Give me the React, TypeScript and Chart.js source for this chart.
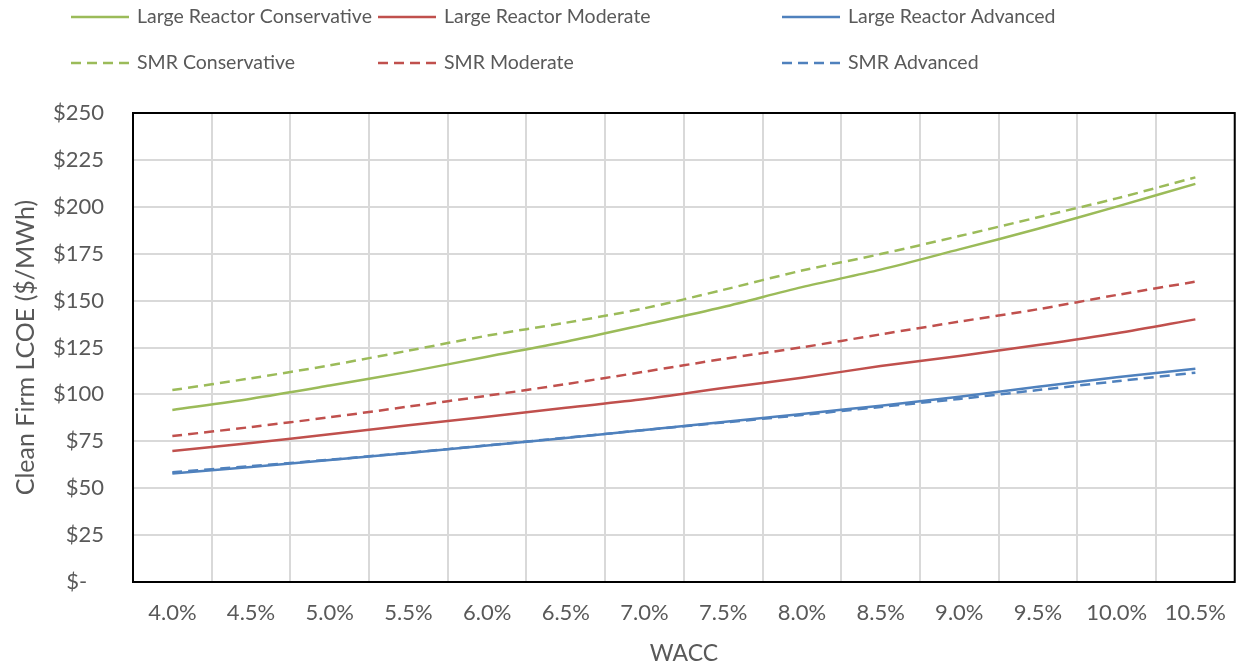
import React, { useEffect, useRef } from "react";
import { Chart, registerables } from "chart.js";

Chart.register(...registerables);

// ---------- data ----------
const WACC_LABELS = ["4.0%", "4.5%", "5.0%", "5.5%", "6.0%", "6.5%", "7.0%", "7.5%", "8.0%", "8.5%", "9.0%", "9.5%", "10.0%", "10.5%"];

const LR_CONSERVATIVE = [91.7, 97.7, 104.7, 112.0, 120.1, 128.1, 137.2, 146.6, 157.2, 166.5, 177.3, 188.3, 200.1, 212.2];
const LR_MODERATE = [69.8, 74.1, 78.7, 83.5, 88.1, 92.9, 97.5, 103.4, 108.9, 115.1, 120.5, 126.3, 132.6, 140.0];
const LR_ADVANCED = [57.8, 61.3, 65.0, 68.8, 72.7, 76.8, 81.0, 85.3, 89.6, 94.0, 98.8, 104.1, 109.1, 113.7];
const SMR_CONSERVATIVE = [102.3, 108.6, 115.5, 123.3, 131.3, 138.2, 145.9, 155.7, 166.0, 174.8, 184.4, 194.4, 204.5, 215.7];
const SMR_MODERATE = [77.8, 82.6, 87.8, 93.5, 99.3, 105.5, 112.1, 118.9, 125.1, 132.0, 138.8, 145.4, 153.0, 160.1];
const SMR_ADVANCED = [58.5, 61.8, 65.2, 68.9, 72.8, 76.9, 81.0, 85.0, 89.0, 93.3, 97.6, 102.3, 107.0, 111.6];

const SERIES_NAMES = [
  "Large Reactor Conservative",
  "Large Reactor Moderate",
  "Large Reactor Advanced",
  "SMR Conservative",
  "SMR Moderate",
  "SMR Advanced",
];

const Y_MIN = 0;
const Y_MAX = 250;
const Y_STEP = 25;

const X_TITLE = "WACC";
const Y_TITLE = "Clean Firm LCOE ($/MWh)";

// ---------- styles ----------
const GREEN = "#9BBB59";
const RED = "#C0504D";
const BLUE = "#4F81BD";
const TEXT = "#595959";
const GRID = "#D9D9D9";
const FONT = "Lato, 'Noto Sans', sans-serif";
const DASH = [10, 6];

const W = 1244;
const H = 667;

const legendPlugin = {
  id: "customLegend",
  afterDraw(chart: any) {
    const ctx = chart.ctx;
    const colX = [71, 378, 782];
    const rowY = [17, 63];
    const lineLen = 58;
    ctx.save();
    ctx.font = `19.5px ${FONT}`;
    ctx.textBaseline = "middle";
    ctx.textAlign = "left";
    chart.data.datasets.forEach((ds: any, i: number) => {
      const col = i % 3;
      const row = Math.floor(i / 3);
      const x = colX[col];
      const y = rowY[row];
      ctx.strokeStyle = ds.borderColor;
      ctx.lineWidth = ds.borderWidth;
      ctx.setLineDash(ds.borderDash || []);
      ctx.beginPath();
      ctx.moveTo(x, y);
      ctx.lineTo(x + lineLen, y);
      ctx.stroke();
      ctx.setLineDash([]);
      ctx.fillStyle = TEXT;
      ctx.fillText(ds.label, x + lineLen + 8, y);
    });
    ctx.restore();
  },
};

const framePlugin = {
  id: "frame",
  beforeDatasetsDraw(chart: any) {
    const { ctx, chartArea } = chart;
    ctx.save();
    ctx.strokeStyle = "#000000";
    ctx.lineWidth = 2;
    ctx.strokeRect(chartArea.left, chartArea.top, chartArea.right - chartArea.left, chartArea.bottom - chartArea.top);
    ctx.restore();
  },
};

function yTick(v: number) {
  return v === 0 ? "$-   " : "$" + v;
}

export default function App() {
  const ref = useRef<HTMLCanvasElement | null>(null);

  useEffect(() => {
    document.body.style.margin = "0";
    if (!ref.current) return;
    const mk = (label: string, data: number[], color: string, dashed: boolean) => ({
      label,
      data,
      borderColor: color,
      backgroundColor: color,
      borderWidth: 2.5,
      borderDash: dashed ? DASH : [],
      pointRadius: 0,
      tension: 0.3,
      fill: false,
    });
    const chart = new Chart(ref.current, {
      type: "line",
      data: {
        labels: WACC_LABELS,
        datasets: [
          mk(SERIES_NAMES[0], LR_CONSERVATIVE, GREEN, false),
          mk(SERIES_NAMES[1], LR_MODERATE, RED, false),
          mk(SERIES_NAMES[2], LR_ADVANCED, BLUE, false),
          mk(SERIES_NAMES[3], SMR_CONSERVATIVE, GREEN, true),
          mk(SERIES_NAMES[4], SMR_MODERATE, RED, true),
          mk(SERIES_NAMES[5], SMR_ADVANCED, BLUE, true),
        ],
      },
      options: {
        responsive: false,
        animation: false,
        devicePixelRatio: 1,
        layout: { padding: { top: 113, right: 2, left: 0, bottom: 0 } },
        plugins: {
          legend: { display: false },
          tooltip: { enabled: false },
        },
        scales: {
          x: {
            offset: true,
            grid: { offset: true, color: GRID, lineWidth: 2, drawTicks: false },
            border: { display: false },
            ticks: { color: TEXT, font: { family: FONT, size: 22 }, padding: 18, maxRotation: 0, autoSkip: false },
            title: { display: true, text: X_TITLE, color: TEXT, font: { family: FONT, size: 23 }, padding: { top: 0, bottom: 0 } },
            afterFit: (s: any) => { s.height = 85; },
          },
          y: {
            min: Y_MIN,
            max: Y_MAX,
            grid: { color: GRID, lineWidth: 2, drawTicks: false },
            border: { display: false },
            ticks: { stepSize: Y_STEP, color: TEXT, font: { family: FONT, size: 22 }, padding: 29, callback: (v: any) => yTick(Number(v)) },
            title: { display: true, text: Y_TITLE, color: TEXT, font: { family: FONT, size: 25 }, padding: { top: 11, bottom: 0 } },
            afterFit: (s: any) => { s.width = 133; },
          },
        },
      },
      plugins: [framePlugin, legendPlugin],
    });
    return () => chart.destroy();
  }, []);

  return (
    <div style={{ width: W, height: H, background: "#fff" }}>
      <canvas ref={ref} width={W} height={H} style={{ display: "block" }} />
    </div>
  );
}
